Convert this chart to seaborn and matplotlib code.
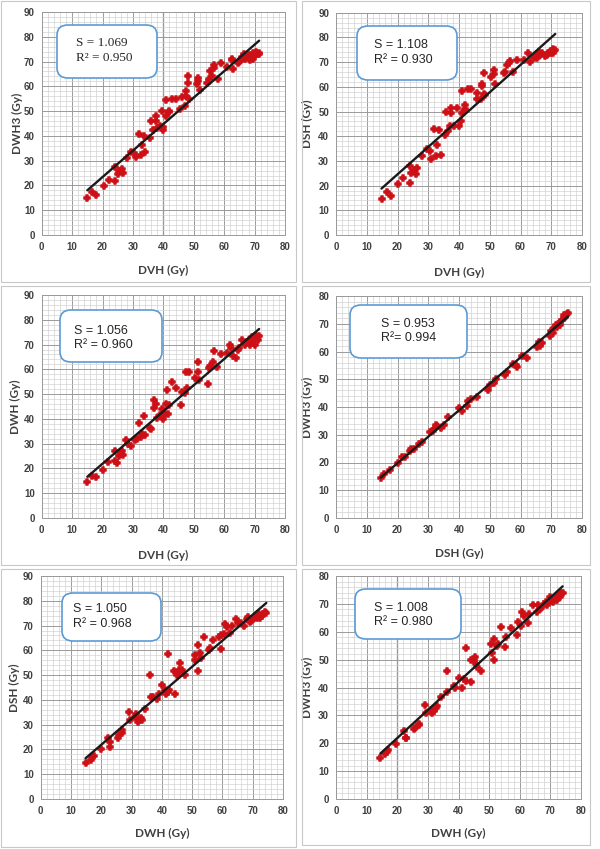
import numpy as np
import pandas as pd
import matplotlib
matplotlib.use("Agg")
import matplotlib.pyplot as plt
import seaborn as sns
from matplotlib.patches import FancyBboxPatch, Rectangle
from matplotlib.ticker import MultipleLocator

# ---------------- data ----------------
p1_x = [15, 16.5, 18, 20.5, 22, 24, 24.2, 25, 25.5, 26.5, 26.8, 28, 29.5, 30.5, 31, 32, 32.5, 33, 33.8, 34,
        35.5, 36, 36.5, 37.5, 37.5, 38, 39, 39.5, 40, 40, 41, 41, 42, 42, 43, 44, 45.5, 46, 47, 47.5,
        47.5, 48, 48, 48.5, 51, 51.5, 51.5, 52, 54.5, 55, 55.5, 56, 56.5, 56.5, 58, 59, 61, 62.5, 62.5, 63,
        64.5, 65, 66, 66.5, 67, 68, 68.5, 69, 69.5, 70, 70.5, 71, 71.5, 70.5, 69.5, 68, 66, 71.5]
p1_y = [15, 17.5, 16.3, 19.8, 22.3, 21.8, 27.5, 24.5, 26, 26.5, 25, 31, 33.5, 33, 31.5, 40.8, 32.3, 36.5, 40, 33.5,
        39, 46, 42.5, 46, 48, 43, 44, 50, 43.5, 42.5, 54.5, 48, 50, 49.5, 55, 55, 51, 55.5, 52, 58,
        56, 61.5, 64, 55, 61, 62, 63.5, 58.5, 61.5, 63, 66, 64, 67.5, 68.5, 63, 69.5, 68, 70.5, 71, 67,
        69.5, 70, 72, 73, 71, 71.5, 70.5, 72, 71, 72.5, 74, 73, 73.5, 73, 73.5, 72.5, 71, 73]

p2_x = [14.8, 16.5, 18, 20.3, 21.7, 24, 24, 24.5, 25.5, 26, 26.3, 28, 29.5, 30.5, 31, 31.8, 32.5, 33, 33.5, 34,
        35.5, 35.8, 36.5, 37, 37.5, 37.5, 38.5, 39.3, 40, 40.5, 41, 41, 41.8, 42, 42.8, 43.8, 46, 46, 47, 47.5,
        47.5, 48, 48, 48.5, 50.5, 51.5, 51.5, 51.8, 54.5, 55, 55.5, 56.3, 56.5, 57.5, 59, 61, 62.5, 63, 64.5, 65,
        66, 66.5, 67, 68, 68.5, 69, 69.5, 70, 70.5, 71, 71.3, 70.5, 69.8, 65.5]
p2_y = [14.5, 17.3, 15.8, 20.5, 23, 28, 21.2, 25, 26.5, 24.5, 27, 32, 35, 34, 30.8, 42.8, 32, 36.5, 42.5, 32.5,
        40.5, 50, 42, 44, 51.5, 49.5, 44, 51.5, 44, 46, 49.5, 58.5, 52.5, 51, 59, 59, 57.5, 55, 55, 61,
        60.5, 65.5, 57, 56.5, 64, 67, 65, 61, 65.5, 66, 69, 69.5, 70.5, 66, 71, 71, 73.5, 70, 71.5, 72.5,
        74, 73, 73.5, 72.5, 73, 73.5, 74, 74.5, 75.5, 74.5, 75, 73.8, 73.5, 71.5]

p3_x = [15, 16.5, 18, 20, 21.7, 24, 24.2, 24.8, 25.5, 26, 26.3, 26.8, 27.8, 28.5, 29.5, 30.8, 31.2, 32, 32.5, 33,
        33.5, 34, 35.5, 35.8, 36.8, 37, 37.5, 38, 39, 39.5, 40, 40.5, 41, 41.2, 41.5, 42, 42.8, 44, 45.8, 46,
        47, 47.5, 47.8, 48.3, 50.5, 51.5, 51.5, 51.8, 54.8, 55, 55.5, 56.2, 56.5, 57.5, 58.8, 61, 62, 62.3, 63, 64,
        64.5, 65, 66, 67, 67.5, 68, 68.5, 69, 69.5, 70, 70.5, 71, 71.5, 70, 69]
p3_y = [14.5, 17, 16.5, 19.3, 22.5, 27, 23, 22.3, 25, 26, 27, 25.5, 31.5, 30, 29, 31.5, 32, 38.5, 32.5, 34,
        41, 33.5, 36.5, 36, 44.5, 47.5, 46, 40.5, 41.5, 44, 40, 42, 46, 51.5, 42, 45.5, 55, 52.5, 45.5, 51,
        50.5, 58.8, 52.5, 59, 56.5, 62.8, 59, 55.5, 54, 60.5, 61.5, 63, 67.2, 61, 66, 66.5, 70, 68.5, 65.5, 64.5,
        68, 68.5, 72, 70, 71, 72, 70, 71, 72.5, 70, 73.5, 72, 73.5, 73.5, 73]

p4_x = [14.5, 15.5, 17.5, 20, 21.5, 22.5, 24, 24.5, 25.5, 27, 28, 30.5, 31.5, 32, 32.5, 33, 34, 35, 36.5, 40,
        41, 42.5, 43, 44, 46, 49.5, 50, 51.5, 52, 55, 55.5, 57.5, 58.5, 59, 60.5, 62, 65.5, 66, 66.5, 67,
        69.5, 70, 70.5, 71, 72, 72.5, 73, 73.5, 74, 74.5, 75, 75.5, 74, 73, 71.5]
p4_y = [14.5, 16, 17.3, 20, 22, 22, 24, 25, 25, 26.5, 27.5, 31, 31.5, 32, 33.5, 33, 32.5, 33.5, 36.5, 39.5,
        38.5, 40.5, 42, 43, 43.5, 46, 48, 48.5, 50, 51.5, 52.5, 55.5, 55, 54.5, 58.5, 57.5, 61.5, 63.5, 62, 63,
        65.5, 67.5, 66.5, 68.5, 69, 70, 70.5, 71.5, 72, 72.5, 73.5, 74, 73, 69.5, 69.5]

p5_x = [14.8, 16.5, 17, 17.5, 19.8, 22.3, 23, 23, 25.5, 25.8, 27, 27, 29, 29.5, 31, 31.5, 32, 32.5, 33, 33.5,
        34.5, 36, 36.5, 37, 38.5, 39, 40, 41, 41.5, 42, 42, 42.5, 44, 44.5, 45, 45.5, 46, 46.5, 46.8, 47.5,
        51, 51, 51.8, 51.8, 52.5, 53, 54, 55.5, 56, 57, 59, 59.5, 59.5, 60.5, 61, 61.5, 62.5, 63, 64.5, 65,
        66, 67, 68, 68.5, 69, 70, 70.5, 71, 71.5, 72, 72.5, 73, 73.5, 74, 74.5, 69.5]
p5_y = [14.5, 15.8, 17, 17.3, 20, 24.5, 21, 23, 24.5, 26, 27.8, 26.5, 35, 32, 33, 34.3, 31, 32, 32.5, 32,
        36.5, 50, 41, 41, 40.5, 42.5, 46, 44, 42.5, 43, 58.5, 44, 51.5, 42.5, 50, 52, 55, 52, 51, 50,
        58, 56, 51.5, 62, 59, 57, 65.5, 60, 61, 64, 65.5, 66, 60.5, 66.5, 70.5, 69.5, 67, 70, 72.5, 71,
        71, 70, 72.5, 73.5, 71.5, 72.5, 73, 74, 73, 74.5, 73, 74, 74.5, 75.5, 75, 72]

p6_x = [14.5, 16, 16.5, 17, 19.5, 22.3, 22.8, 23, 25.5, 25.8, 27, 27.2, 29, 29.5, 31, 31.5, 32, 32.5, 33, 34.3,
        36.2, 36.3, 38.5, 39, 40.2, 41.3, 41.8, 42.3, 42.5, 44.2, 44.2, 45.2, 45.5, 45.8, 46, 47.5, 50.5, 51, 51.5, 51.5,
        52.5, 53, 54, 55.3, 55.5, 57, 59, 59.3, 60.5, 60.8, 61.3, 62.8, 63, 64.3, 65.5, 66, 66.5, 67, 68, 68.5,
        69, 69.5, 70, 70.5, 71, 71.5, 72, 72.5, 73, 73.5, 74, 72]
p6_y = [14.8, 16, 17, 17.5, 19.7, 24.5, 22, 21.8, 25, 25.5, 27, 26.5, 33.8, 31, 32, 31, 31.5, 32.5, 33.5, 36.5,
        46, 38.5, 40.5, 40, 43.5, 40, 43, 54.2, 42.5, 50, 41.8, 50, 51, 48.5, 47.5, 45.8, 55.5, 52.5, 49.8, 57.5,
        55, 55.5, 61.7, 54.7, 58, 61.5, 58.8, 63.5, 62, 67.2, 65.5, 63.2, 66.5, 69.5, 67, 69.5, 68, 68.5, 70, 70.5,
        69.5, 70.5, 72.5, 71, 70.5, 72, 71.5, 73, 72.5, 74, 74, 72.5]

x_labels = ["DVH (Gy)", "DVH (Gy)", "DVH (Gy)", "DSH (Gy)", "DWH (Gy)", "DWH (Gy)"]
y_labels = ["DWH3 (Gy)", "DSH (Gy)", "DWH (Gy)", "DWH3 (Gy)", "DSH (Gy)", "DWH3 (Gy)"]
slopes = [1.069, 1.108, 1.056, 0.953, 1.050, 1.008]
intercepts = [2.0, 2.4, 0.8, 0.7, 0.9, 1.7]
r2_values = ["0.950", "0.930", "0.960", "0.994", "0.968", "0.980"]
y_max = [90, 90, 90, 80, 90, 80]

xs = [p1_x, p2_x, p3_x, p4_x, p5_x, p6_x]
ys = [p1_y, p2_y, p3_y, p4_y, p5_y, p6_y]

# ---------------- layout (pixels, top-left origin) ----------------
W, H = 600, 849
axes_px = [(41.7, 285, 12, 235), (336, 582, 12.7, 235),
           (41.7, 285, 295, 518), (336, 582, 296, 518),
           (40.7, 283, 576, 799), (336, 581, 576, 799)]
panel_px = [(1, 296, 1, 282), (302, 590, 1, 282),
            (1, 296, 286, 565), (302, 590, 286, 565),
            (1, 296, 569, 847), (302, 590, 569, 845)]
box_px = [(57, 157, 25, 78), (357, 457, 26, 80),
          (60, 162, 310, 362), (350, 467, 305, 358),
          (62, 161, 593, 641), (355, 461, 589, 639)]
text_px = [(76, 43, 58), (374, 45, 60), (74, 331, 345), (381, 324, 338), (73, 609, 624), (374, 608, 622)]
ylab_off = [-19, -23, -21, -23, -21, -23]
xlab_off = [30, 32, 32, 30, 29, 29]
text_fam = ["Liberation Serif", "Liberation Sans", "Liberation Sans", "Liberation Sans", "Liberation Sans", "Liberation Sans"]
dark_vline = [40, None, None, None, None, 20]

sns.set_theme(style="white")
plt.rcParams['font.family'] = ['Liberation Sans', 'DejaVu Sans']

fig = plt.figure(figsize=(W / 100, H / 100), dpi=100)
fig.patch.set_facecolor("white")

for (x0, x1, y0, y1) in panel_px:
    fig.patches.append(Rectangle((x0 / W, 1 - y1 / H), (x1 - x0) / W, (y1 - y0) / H,
                                 transform=fig.transFigure, fill=False,
                                 edgecolor="#c8c8c8", linewidth=0.8, zorder=0))

red = "#cc1016"
for i in range(6):
    L, R, T, B = axes_px[i]
    ax = fig.add_axes([L / W, 1 - B / H, (R - L) / W, (B - T) / H])
    ax.set_facecolor("white")
    ax.set_xlim(0, 80)
    ax.set_ylim(0, y_max[i])
    ax.xaxis.set_major_locator(MultipleLocator(10))
    ax.yaxis.set_major_locator(MultipleLocator(10))
    ax.xaxis.set_minor_locator(MultipleLocator(2))
    ax.yaxis.set_minor_locator(MultipleLocator(2))
    ax.grid(which="major", color="#9a9a9a", linewidth=0.7, zorder=0)
    ax.grid(which="minor", color="#cfcfcf", linewidth=0.45, zorder=0)
    ax.set_axisbelow(True)
    for s in ax.spines.values():
        s.set_color("#9a9a9a")
        s.set_linewidth(0.7)
    if dark_vline[i] is not None:
        ax.axvline(dark_vline[i], color="#707070", linewidth=0.9, zorder=0.5)

    df = pd.DataFrame({"x": xs[i], "y": ys[i]})
    sns.scatterplot(data=df, x="x", y="y", ax=ax, marker="P", s=20, color=red,
                    edgecolor=red, linewidth=1.1, zorder=3, legend=False)
    lx = np.array([min(xs[i]), max(xs[i])])
    ly = slopes[i] * lx + intercepts[i]
    sns.lineplot(x=lx, y=ly, ax=ax, color="#1a1a1a", linewidth=1.7, zorder=4)

    ax.tick_params(axis="both", which="both", length=0, pad=5, labelsize=7, labelcolor="#404040")
    for lab in ax.get_xticklabels() + ax.get_yticklabels():
        lab.set_fontweight("bold")
    ax.set_xlabel(x_labels[i], fontsize=8.5, fontweight="bold", color="#404040", family=["Lato", "DejaVu Sans"])
    ax.set_ylabel(y_labels[i], fontsize=8.5, fontweight="bold", color="#404040", family=["Lato", "DejaVu Sans"])
    ax.xaxis.set_label_coords(0.5, -xlab_off[i] / (B - T))
    ax.yaxis.set_label_coords(ylab_off[i] / (R - L), 0.5)

    # annotation box
    bx0, bx1, by0, by1 = box_px[i]
    fx0 = (bx0 - L) / (R - L)
    fx1 = (bx1 - L) / (R - L)
    fy0 = (B - by1) / (B - T)
    fy1 = (B - by0) / (B - T)
    box = FancyBboxPatch((fx0, fy0), fx1 - fx0, fy1 - fy0,
                         boxstyle="round,pad=0,rounding_size=0.045",
                         transform=ax.transAxes, facecolor="white",
                         edgecolor="#5b9bd5", linewidth=1.2, zorder=5)
    ax.add_patch(box)
    tx, ty1, ty2 = text_px[i]
    sep = "= " if i == 3 else " = "
    fs = 9.5 if i == 0 else 9
    ax.text((tx - L) / (R - L), (B - ty1) / (B - T), f"S = {slopes[i]:.3f}",
            transform=ax.transAxes, ha="left", va="center", fontsize=fs,
            color="#262626", family=[text_fam[i], "DejaVu Sans"], zorder=6)
    ax.text((tx - L) / (R - L), (B - ty2) / (B - T), f"R²{sep}{r2_values[i]}",
            transform=ax.transAxes, ha="left", va="center", fontsize=fs,
            color="#262626", family=[text_fam[i], "DejaVu Sans"], zorder=6)

fig.savefig("out.png", dpi=100, facecolor="white")
